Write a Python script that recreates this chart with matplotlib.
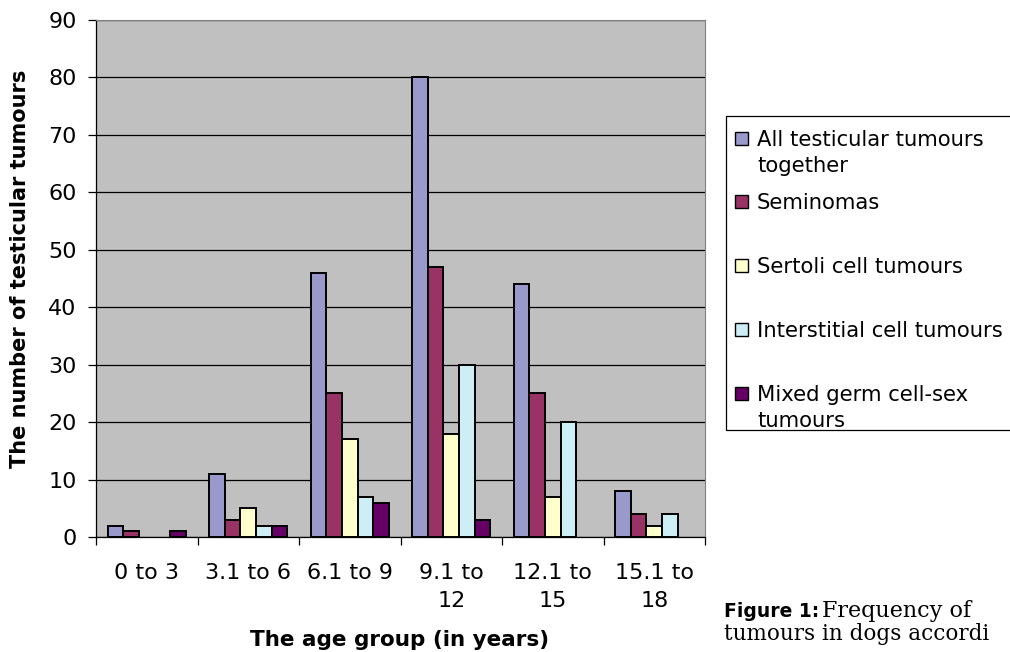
import numpy as np
import matplotlib
matplotlib.use("Agg")
import matplotlib.pyplot as plt
from matplotlib.patches import Rectangle

# age groups and tumour counts per type
age_groups = ["0 to 3", "3.1 to 6", "6.1 to 9", "9.1 to\n12", "12.1 to\n15", "15.1 to\n18"]
series_names = ["All testicular tumours\ntogether", "Seminomas", "Sertoli cell tumours",
                "Interstitial cell tumours", "Mixed germ cell-sex\ntumours"]
all_tumours = [2, 11, 46, 80, 44, 8]
seminomas = [1, 3, 25, 47, 25, 4]
sertoli = [0, 5, 17, 18, 7, 2]
interstitial = [0, 2, 7, 30, 20, 4]
mixed = [1, 2, 6, 3, 0, 0]
colors = ["#9999cc", "#993366", "#ffffcc", "#cceef4", "#660066"]

series = [all_tumours, seminomas, sertoli, interstitial, mixed]

plt.rcParams['font.family'] = ['DejaVu Sans']

fig = plt.figure(figsize=(10.1, 6.52), dpi=100)
ax = fig.add_axes([96/1010, 1 - 537/652, 609/1010, 517/652])
ax.set_facecolor("#c0c0c0")

x = np.arange(len(age_groups))
w = 1 / 6.5
for i, (vals, c) in enumerate(zip(series, colors)):
    vals = np.array(vals)
    keep = vals > 0
    ax.bar(x[keep] + (i - 2) * w, vals[keep], width=w, color=c,
           edgecolor="black", linewidth=1.4, zorder=3)

ax.set_xlim(-0.5, len(age_groups) - 0.5)
ax.set_ylim(0, 90)
ax.set_yticks(range(0, 91, 10))
ax.yaxis.grid(True, color="black", linewidth=0.9, zorder=1)
ax.tick_params(axis="y", length=6, width=0.9, pad=8, labelsize=16)

# ticks between groups, labels at group centres
ax.set_xticks(np.arange(-0.5, len(age_groups), 1))
ax.set_xticklabels([])
ax.set_xticks(x, minor=True)
ax.set_xticklabels(age_groups, minor=True, fontsize=16, linespacing=1.5)
ax.tick_params(axis="x", which="major", length=6, width=0.9)
ax.tick_params(axis="x", which="minor", length=0, pad=19)

for s in ["top", "right"]:
    ax.spines[s].set_color("#808080")
for s in ["left", "bottom"]:
    ax.spines[s].set_color("black")
    ax.spines[s].set_linewidth(0.9)

fig.text(400/1010, 1 - 646/652, "The age group (in years)", ha="center", va="baseline",
         fontsize=15.5, fontweight="bold")
fig.text(20/1010, 1 - 269/652, "The number of testicular tumours", ha="center", va="center",
         rotation=90, fontsize=15, fontweight="bold")

# legend box drawn by hand to keep Excel-like spacing
fig.patches.append(Rectangle((726/1010, 1 - 430/652), 0.3, 314/652, transform=fig.transFigure,
                             facecolor="white", edgecolor="black", linewidth=0.9))
entry_y = [146, 209, 273, 337, 401]
for name, c, yb in zip(series_names, colors, entry_y):
    fig.patches.append(Rectangle((735/1010, 1 - (yb - 1)/652), 13/1010, 13/652,
                                 transform=fig.transFigure, facecolor=c,
                                 edgecolor="black", linewidth=1.0))
    for k, line in enumerate(name.split("\n")):
        fig.text(757/1010, 1 - (yb + 26*k)/652, line, ha="left", va="baseline", fontsize=15.2)

fig.text(724/1010, 1 - 617/652, "Figure 1:", fontsize=13.5, fontweight="bold", va="baseline")
fig.text(822/1010, 1 - 617/652, "Frequency of", fontsize=16, family="DejaVu Serif", va="baseline")
fig.text(724/1010, 1 - 640/652, "tumours in dogs accordi", fontsize=15.5, family="DejaVu Serif",
         va="baseline")

fig.savefig("out.png", dpi=100)
